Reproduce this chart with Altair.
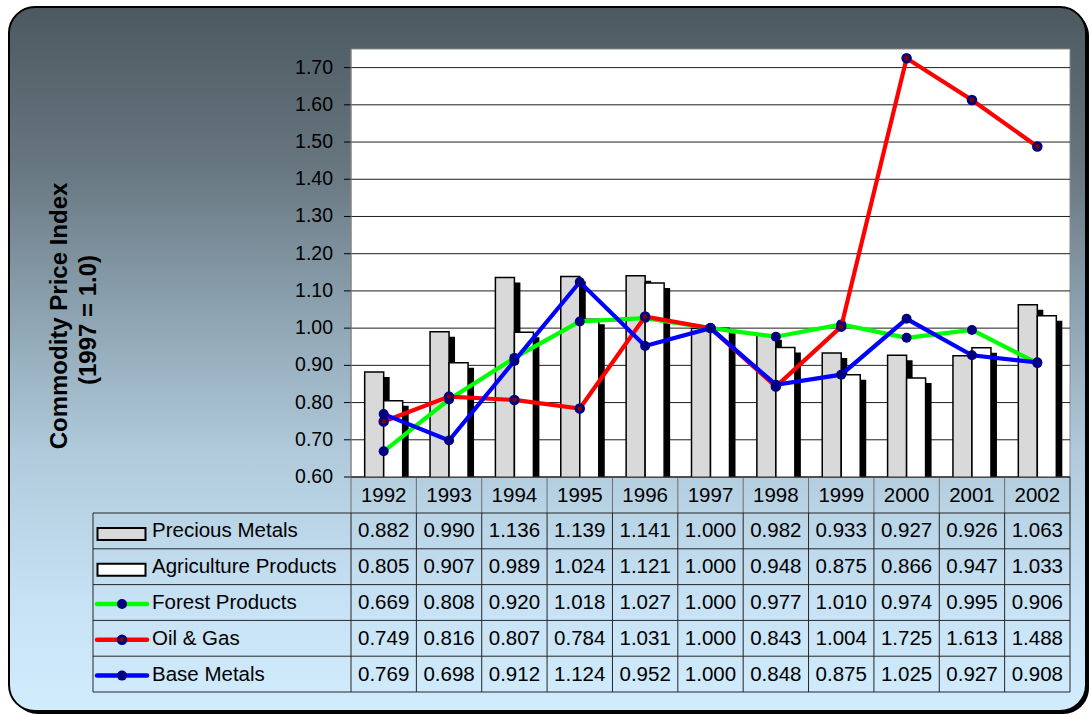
import altair as alt
import pandas as pd

# Commodity price indices, 1997 = 1.0
years = ["1992", "1993", "1994", "1995", "1996", "1997", "1998", "1999", "2000", "2001", "2002"]
precious_metals = [0.882, 0.990, 1.136, 1.139, 1.141, 1.000, 0.982, 0.933, 0.927, 0.926, 1.063]
agriculture_products = [0.805, 0.907, 0.989, 1.024, 1.121, 1.000, 0.948, 0.875, 0.866, 0.947, 1.033]
forest_products = [0.669, 0.808, 0.920, 1.018, 1.027, 1.000, 0.977, 1.010, 0.974, 0.995, 0.906]
oil_and_gas = [0.749, 0.816, 0.807, 0.784, 1.031, 1.000, 0.843, 1.004, 1.725, 1.613, 1.488]
base_metals = [0.769, 0.698, 0.912, 1.124, 0.952, 1.000, 0.848, 0.875, 1.025, 0.927, 0.908]

series_labels = ["Precious Metals", "Agriculture Products", "Forest Products", "Oil & Gas", "Base Metals"]
y_ticks = [0.60, 0.70, 0.80, 0.90, 1.00, 1.10, 1.20, 1.30, 1.40, 1.50, 1.60, 1.70]
axis_title = ["Commodity Price Index", "(1997 = 1.0)"]

df = pd.DataFrame({
    "year": years,
    "precious": precious_metals,
    "agri": agriculture_products,
    "forest": forest_products,
    "oil": oil_and_gas,
    "base": base_metals,
})
ticks_df = pd.DataFrame({"v": y_ticks})
one = pd.DataFrame({"k": [0]})

# canvas layout (plot area sits inside the padding)
CW, CH = 1092, 715
LEFT, TOP = 351, 49
W, H = 719, 428
FONT = "Liberation Sans"

xscale = alt.Scale(type="band", domain=years, paddingInner=0, paddingOuter=0)
yscale = alt.Scale(domain=[0.6, 1.75], zero=False, nice=False)


def X(**kw):
    return alt.X("year:N", scale=xscale, axis=None, **kw)


def Y(field):
    return alt.Y(f"{field}:Q", scale=yscale, axis=None)


def px(v):
    return alt.value(v - LEFT)


def py(v):
    return alt.value(v - TOP)


layers = []

# rounded frame with drop shadow and vertical gradient
layers.append(alt.Chart(one).mark_rect(cornerRadius=26, fill="black").encode(
    x=px(12), x2=px(1089), y=py(10), y2=py(714)))
gradient = alt.LinearGradient(
    gradient="linear", x1=0, y1=0, x2=0, y2=1,
    stops=[
        alt.GradientStop(offset=0.0, color="#4c5961"),
        alt.GradientStop(offset=0.22, color="#66757e"),
        alt.GradientStop(offset=0.42, color="#8aa0ae"),
        alt.GradientStop(offset=0.63, color="#b0cadb"),
        alt.GradientStop(offset=0.85, color="#c6e2f4"),
        alt.GradientStop(offset=1.0, color="#d0ecfd"),
    ])
layers.append(alt.Chart(one).mark_rect(cornerRadius=26, fill=gradient, stroke="black", strokeWidth=2).encode(
    x=px(9), x2=px(1086), y=py(7), y2=py(711)))

# plot area
layers.append(alt.Chart(one).mark_rect(fill="white", stroke="#8c8c8c", strokeWidth=1).encode(
    x=alt.value(0), x2=alt.value(W), y=alt.value(0), y2=alt.value(H)))

# value axis: gridlines, tick marks and labels
layers.append(alt.Chart(ticks_df).mark_rule(color="#1e1e1e", strokeWidth=1).encode(
    y=alt.Y("v:Q", scale=yscale, axis=None), x=alt.value(0), x2=alt.value(W)))
layers.append(alt.Chart(ticks_df).mark_rule(color="black", strokeWidth=1).encode(
    y=alt.Y("v:Q", scale=yscale, axis=None), x=px(344), x2=px(351)))
layers.append(alt.Chart(ticks_df).mark_text(font=FONT, fontSize=19.5, color="black", align="right",
                                            baseline="middle").encode(
    y=alt.Y("v:Q", scale=yscale, axis=None), x=px(333), text=alt.Text("v:Q", format=".2f")))
layers.append(alt.Chart(one).mark_rule(color="#808080", strokeWidth=1).encode(
    x=alt.value(0), y=alt.value(0), y2=alt.value(H)))

base = alt.Chart(df)
BAR_W = 19

# clustered bars with an offset black shadow
for field, fill, dx in [("precious", "#d9d9d9", -BAR_W / 2), ("agri", "white", BAR_W / 2)]:
    layers.append(base.mark_bar(width=BAR_W, xOffset=dx + 6, yOffset=5, color="black", clip=True).encode(
        x=X(), y=Y(field)))
    layers.append(base.mark_bar(width=BAR_W, xOffset=dx, fill=fill, stroke="black", strokeWidth=1.5, clip=True).encode(
        x=X(), y=Y(field)))

NAVY = "#000080"
DARK_RED = "#800000"
line_series = [("forest", "#00ff00"), ("oil", "#ff0000"), ("base", "#0000ff")]
for field, color in line_series:
    layers.append(base.mark_line(color=color, strokeWidth=4.2).encode(x=X(), y=Y(field)))
    if field == "oil":
        layers.append(base.mark_point(shape="circle", filled=True, fill=DARK_RED, stroke=NAVY,
                                      strokeWidth=2.8, size=60, opacity=1).encode(x=X(), y=Y(field)))
    else:
        layers.append(base.mark_circle(color=NAVY, size=100, opacity=1).encode(x=X(), y=Y(field)))

# axis title
layers.append(alt.Chart(one).mark_text(text=axis_title[0], angle=270, font=FONT, fontSize=24, fontWeight="bold",
                                       align="center", baseline="alphabetic", color="black").encode(
    x=px(67), y=py(316)))
layers.append(alt.Chart(one).mark_text(text=axis_title[1], angle=270, font=FONT, fontSize=24, fontWeight="bold",
                                       align="center", baseline="alphabetic", color="black").encode(
    x=px(96), y=py(320)))

# data table below the plot
HEADER_TOP, HEADER_BOTTOM = 477, 513
ROW_H = 35.8
row_tops = [HEADER_BOTTOM + i * ROW_H for i in range(6)]
row_mid = [t + ROW_H / 2 for t in row_tops[:5]]
TABLE_LEFT = 93
LINE_DARK = "#262626"
LINE_GREY = "#6e6e6e"
TABLE_FS = 20.5

# header: year labels and separators
layers.append(base.mark_text(font=FONT, fontSize=TABLE_FS, color="black", baseline="middle", align="center").encode(
    x=X(), y=py((HEADER_TOP + HEADER_BOTTOM) / 2 + 0.5), text="year:N"))
layers.append(base.mark_rule(color=LINE_GREY, strokeWidth=1).encode(
    x=X(bandPosition=0), y=py(HEADER_TOP), y2=py(HEADER_BOTTOM)))
layers.append(base.mark_rule(color=LINE_DARK, strokeWidth=1).encode(
    x=X(bandPosition=0), y=py(HEADER_BOTTOM), y2=py(row_tops[5])))
layers.append(alt.Chart(one).mark_rule(color=LINE_DARK, strokeWidth=1).encode(
    x=alt.value(W), y=py(HEADER_TOP), y2=py(row_tops[5])))
layers.append(alt.Chart(one).mark_rule(color=LINE_DARK, strokeWidth=1).encode(
    x=px(TABLE_LEFT), y=py(HEADER_BOTTOM), y2=py(row_tops[5])))
for t in row_tops:
    layers.append(alt.Chart(one).mark_rule(color=LINE_DARK, strokeWidth=1).encode(
        x=px(TABLE_LEFT), x2=alt.value(W), y=py(t)))
layers.append(alt.Chart(one).mark_rule(color="#333333", strokeWidth=1).encode(
    x=alt.value(0), x2=alt.value(W), y=alt.value(H)))

# table values
for i, field in enumerate(["precious", "agri", "forest", "oil", "base"]):
    layers.append(base.mark_text(font=FONT, fontSize=TABLE_FS, color="black", baseline="middle", align="center").encode(
        x=X(), y=py(row_mid[i] + 0.5), text=alt.Text(f"{field}:Q", format=".3f")))

# legend keys in the first column
for i, fill in enumerate(["#d9d9d9", "white"]):
    c = row_mid[i] + 3
    layers.append(alt.Chart(one).mark_rect(fill=fill, stroke="black", strokeWidth=2).encode(
        x=px(97.5), x2=px(145.5), y=py(c - 6), y2=py(c + 6)))
for j, (field, color) in enumerate(line_series):
    c = row_mid[2 + j] + 1.5
    layers.append(alt.Chart(one).mark_rule(color=color, strokeWidth=4.5, strokeCap="round").encode(
        x=px(97), x2=px(147), y=py(c)))
    if field == "oil":
        layers.append(alt.Chart(one).mark_point(shape="circle", filled=True, fill=DARK_RED, stroke=NAVY,
                                                strokeWidth=2.8, size=60, opacity=1).encode(x=px(122), y=py(c)))
    else:
        layers.append(alt.Chart(one).mark_circle(color=NAVY, size=100, opacity=1).encode(x=px(122), y=py(c)))
for i, label in enumerate(series_labels):
    layers.append(alt.Chart(one).mark_text(text=label, font=FONT, fontSize=TABLE_FS, color="black",
                                           baseline="middle", align="left").encode(
        x=px(152), y=py(row_mid[i] + 0.5)))

chart = alt.layer(*layers).properties(
    width=W,
    height=H,
    padding={"left": LEFT, "top": TOP, "right": CW - LEFT - W, "bottom": CH - TOP - H},
    autosize=alt.AutoSizeParams(type="none"),
    background="white",
).configure_view(strokeWidth=0)

chart.save("out.html", embed_options={"renderer": "svg", "actions": False})
